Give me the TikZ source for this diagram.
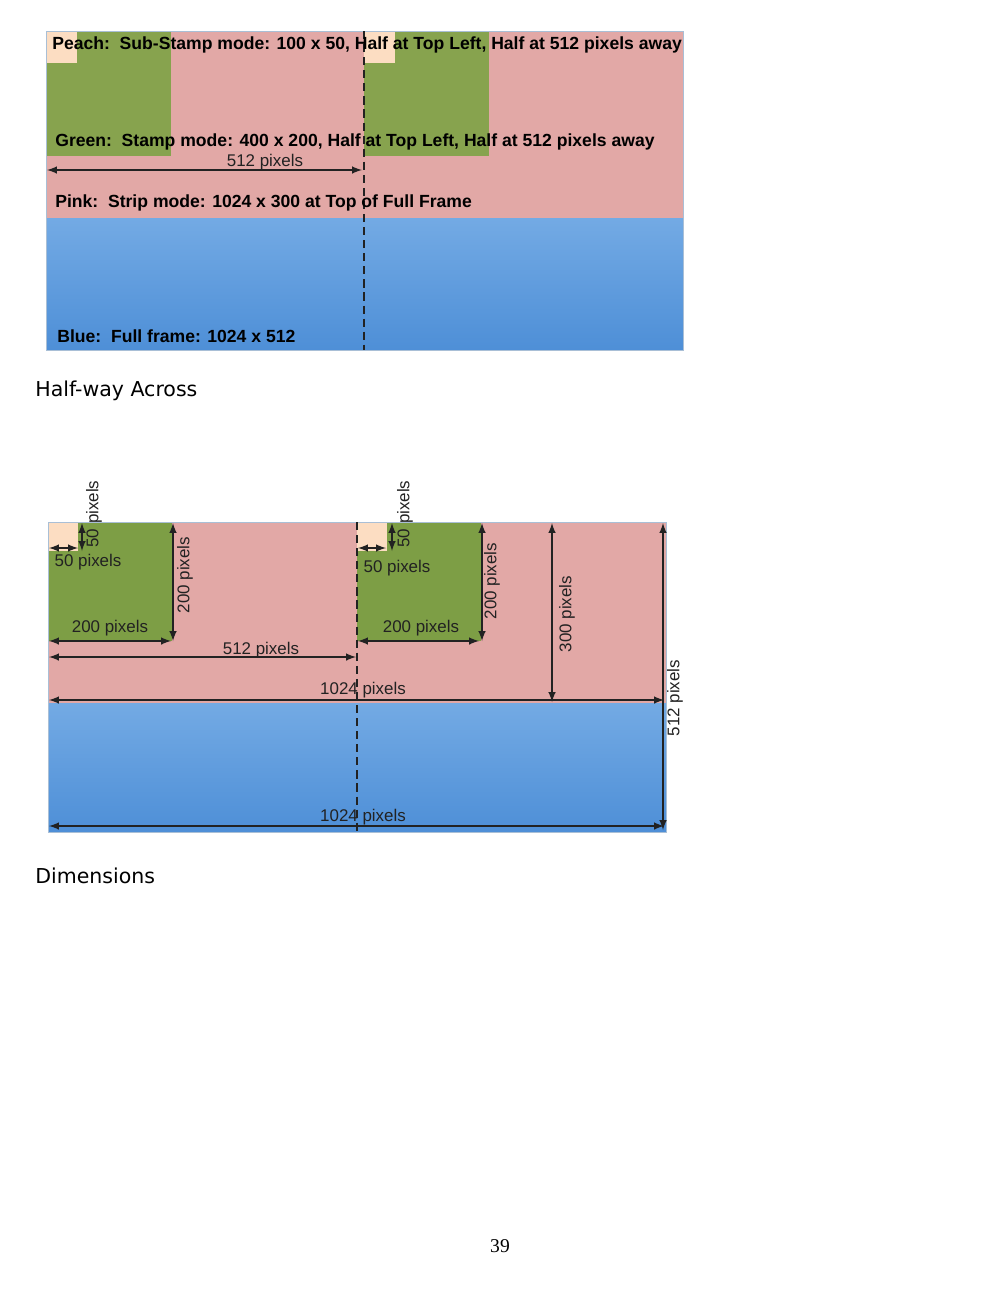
\documentclass[tikz,border=0pt]{standalone}
\usepackage{fontspec}
\setmainfont{Liberation Serif}
\newfontfamily\arialfont{Liberation Sans}
\newfontfamily\capfont{DejaVu Sans}
\usetikzlibrary{arrows}

\definecolor{pinkarea}{HTML}{E2A8A6}
\definecolor{greenarea}{HTML}{87A34E}
\definecolor{greendark}{HTML}{7D9E45}
\definecolor{peacharea}{HTML}{FCDDC2}
\definecolor{bluetop}{HTML}{73AAE4}
\definecolor{bluebot}{HTML}{4E8FD7}
\definecolor{framegray}{HTML}{A9BFD6}
\definecolor{inktext}{HTML}{222222}

\tikzset{
  frame/.style={draw=framegray,line width=0.5pt},
  dimarrow/.style={latex-latex,line width=1.1pt,inktext},
  dimlabel/.style={font=\arialfont\fontsize{10.4}{12}\selectfont,text=inktext,inner sep=0pt},
  modelabel/.style={font=\arialfont\bfseries\fontsize{10.8}{12}\selectfont,anchor=west,inner sep=0pt},
  halfline/.style={line width=1.1pt,inktext,dash pattern=on 5bp off 3bp},
  caption/.style={font=\capfont\fontsize{12.6}{14}\selectfont,anchor=west,inner sep=0pt}
}

\begin{document}
\begin{tikzpicture}[x=0.612bp,y=-0.612bp]

\useasboundingbox[fill=white] (0,0) rectangle (1000,1294);

% top picture: half-way across
\fill[pinkarea] (46,31) rectangle (683,218);
\shade[top color=bluetop,bottom color=bluebot] (46,218) rectangle (683,350);
\fill[greenarea] (46,31) rectangle (171,156);
\fill[greenarea] (364,31) rectangle (489,156);
\fill[peacharea] (46,31) rectangle (77,63);
\fill[peacharea] (364,31) rectangle (395,63);
\draw[frame] (46,31) rectangle (683,350);

\coordinate (halftop) at (364,31);
\coordinate (halfbot) at (364,350);
\draw[halfline] (halftop) -- (halfbot);

\node[modelabel] (peachmode) at (52,45)
{Peach:\ \ Sub-Stamp mode: 100 x 50, Half at Top Left, Half at 512 pixels away};
\node[modelabel] (greenmode) at (55,142)
{Green:\ \ Stamp mode: 400 x 200, Half at Top Left, Half at 512 pixels away};
\node[modelabel] (pinkmode) at (55,203)
{Pink:\ \ Strip mode: 1024 x 300 at Top of Full Frame};
\node[modelabel] (bluemode) at (57,336)
{Blue:\ \ Full frame: 1024 x 512};

\coordinate (offleft) at (47,170);
\coordinate (offright) at (362,170);
\draw[dimarrow] (offleft) -- (offright);
\node[dimlabel] (offlabel) at (265,162) {512 pixels};

\node[caption] (halfcap) at (35,391) {Half-way Across};

% bottom picture: dimensions
\fill[pinkarea] (48,522) rectangle (666,703);
\shade[top color=bluetop,bottom color=bluebot] (48,703) rectangle (666,832);
\fill[greendark] (48,522) rectangle (172,641);
\fill[greendark] (357,522) rectangle (481,641);
\fill[peacharea] (48,522) rectangle (78,551);
\fill[peacharea] (357,522) rectangle (387,551);
\draw[frame] (48,522) rectangle (666,832);

\coordinate (dimtop) at (357,522);
\coordinate (dimbot) at (357,832);
\draw[halfline] (dimtop) -- (dimbot);

% left stamp
\coordinate (pwa) at (49,548);
\coordinate (pwb) at (78,548);
\draw[dimarrow] (pwa) -- (pwb);
\node[dimlabel] (pwlabel) at (88,562) {50 pixels};

\coordinate (pha) at (82,523);
\coordinate (phb) at (82,551);
\draw[dimarrow] (pha) -- (phb);
\node[dimlabel,rotate=90] (phlabel) at (94,514) {50 pixels};

\coordinate (gwa) at (49,641);
\coordinate (gwb) at (171,641);
\draw[dimarrow] (gwa) -- (gwb);
\node[dimlabel] (gwlabel) at (110,628) {200 pixels};

\coordinate (gha) at (173,523);
\coordinate (ghb) at (173,641);
\draw[dimarrow] (gha) -- (ghb);
\node[dimlabel,rotate=90] (ghlabel) at (185,575) {200 pixels};

% right stamp
\coordinate (qwa) at (358,548);
\coordinate (qwb) at (386,548);
\draw[dimarrow] (qwa) -- (qwb);
\node[dimlabel] (qwlabel) at (397,568) {50 pixels};

\coordinate (qha) at (392,523);
\coordinate (qhb) at (392,551);
\draw[dimarrow] (qha) -- (qhb);
\node[dimlabel,rotate=90] (qhlabel) at (405,514) {50 pixels};

\coordinate (hwa) at (358,641);
\coordinate (hwb) at (479,641);
\draw[dimarrow] (hwa) -- (hwb);
\node[dimlabel] (hwlabel) at (421,628) {200 pixels};

\coordinate (hha) at (482,523);
\coordinate (hhb) at (482,641);
\draw[dimarrow] (hha) -- (hhb);
\node[dimlabel,rotate=90] (hhlabel) at (492,581) {200 pixels};

% strip and frame
\coordinate (sha) at (49,657);
\coordinate (shb) at (356,657);
\draw[dimarrow] (sha) -- (shb);
\node[dimlabel] (shlabel) at (261,650) {512 pixels};

\coordinate (swa) at (49,700);
\coordinate (swb) at (664,700);
\draw[dimarrow] (swa) -- (swb);
\node[dimlabel] (swlabel) at (363,690) {1024 pixels};

\coordinate (sva) at (552,523);
\coordinate (svb) at (552,702);
\draw[dimarrow] (sva) -- (svb);
\node[dimlabel,rotate=90] (svlabel) at (567,614) {300 pixels};

\coordinate (fva) at (663,523);
\coordinate (fvb) at (663,830);
\draw[dimarrow] (fva) -- (fvb);
\node[dimlabel,rotate=90] (fvlabel) at (675,698) {512 pixels};

\coordinate (fwa) at (49,826);
\coordinate (fwb) at (664,826);
\draw[dimarrow] (fwa) -- (fwb);
\node[dimlabel] (fwlabel) at (363,817) {1024 pixels};

\node[caption] (dimcap) at (35,876) {Dimensions};

\node[font=\fontsize{12}{14}\selectfont,inner sep=0pt] (pagenum) at (500,1246) {39};

\end{tikzpicture}
\end{document}
